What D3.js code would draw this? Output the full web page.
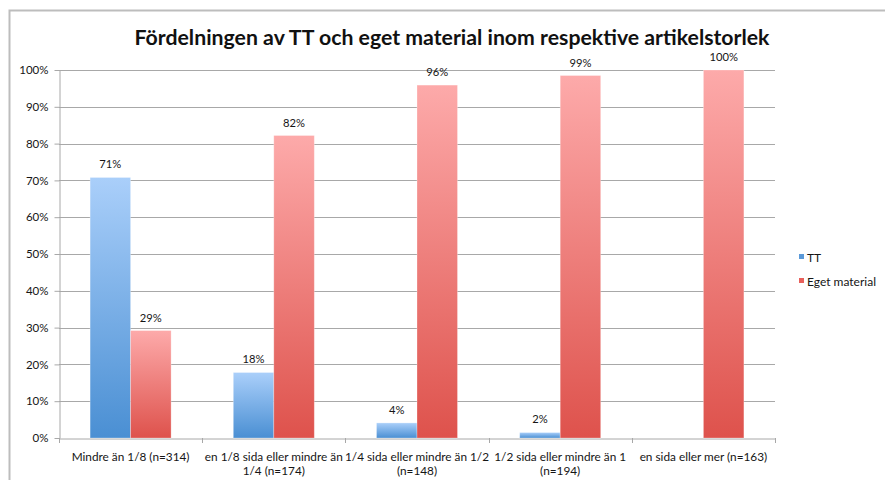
<!DOCTYPE html>
<html>
<head>
<meta charset="utf-8">
<script src="https://cdn.jsdelivr.net/npm/d3@7"></script>
<style>
  html, body { margin: 0; padding: 0; background: #fff; }
  svg { display: block; }
  text { font-family: Lato, "Open Sans", sans-serif; fill: #151515; }
</style>
</head>
<body>
<svg id="chart" width="885" height="480"></svg>
<script>
// ---- data ----
const categories = [
  "Mindre än 1/8 (n=314)",
  "en 1/8 sida eller mindre än 1/4 (n=174)",
  "1/4 sida eller mindre än 1/2 (n=148)",
  "1/2 sida eller mindre än 1 (n=194)",
  "en sida eller mer (n=163)"
];
const categoryLines = [
  ["Mindre än 1/8 (n=314)"],
  ["en 1/8 sida eller mindre än", "1/4 (n=174)"],
  ["1/4 sida eller mindre än 1/2", "(n=148)"],
  ["1/2 sida eller mindre än 1", "(n=194)"],
  ["en sida eller mer (n=163)"]
];
const seriesNames = ["TT", "Eget material"];
const ttValues = [70.8, 17.8, 4.1, 1.5, 0];
const egetValues = [29.2, 82.2, 95.9, 98.5, 100];
const ttLabels = ["71%", "18%", "4%", "2%", null];
const egetLabels = ["29%", "82%", "96%", "99%", "100%"];
const yTicks = [0, 10, 20, 30, 40, 50, 60, 70, 80, 90, 100];
const titleText = "Fördelningen av TT och eget material inom respektive artikelstorlek";

// ---- layout ----
const svg = d3.select("#chart");
const plot = { left: 59, right: 775, top: 70, bottom: 438 };

// gradients
const defs = svg.append("defs");
function grad(id, top, bottom) {
  const g = defs.append("linearGradient").attr("id", id)
    .attr("x1", 0).attr("y1", 0).attr("x2", 0).attr("y2", 1);
  g.append("stop").attr("offset", "0%").attr("stop-color", top);
  g.append("stop").attr("offset", "100%").attr("stop-color", bottom);
}
grad("gTT", "#aacffa", "#4a8fd3");
grad("gEget", "#fdaaaa", "#de524c");

// outer frame
svg.append("path")
  .attr("d", `M9.5,480 L9.5,10.5 L885,10.5`)
  .attr("fill", "none").attr("stroke", "#bdbdbd").attr("stroke-width", 2);

// title
svg.append("text")
  .attr("x", 452).attr("y", 45)
  .attr("text-anchor", "middle")
  .attr("font-size", 20).attr("font-weight", "bold")
  .attr("textLength", 635).attr("lengthAdjust", "spacingAndGlyphs")
  .style("fill", "#111")
  .text(titleText);

const x = d3.scaleBand().domain(categories).range([plot.left, plot.right]);
const y = d3.scaleLinear().domain([0, 100]).range([plot.bottom, plot.top]);
const barW = 40.5;

// gridlines
svg.append("g").selectAll("line").data(yTicks.filter(d => d > 0)).join("line")
  .attr("x1", plot.left).attr("x2", plot.right)
  .attr("y1", d => Math.round(y(d)) + 0.5).attr("y2", d => Math.round(y(d)) + 0.5)
  .attr("stroke", "#a8a8a8").attr("stroke-width", 1);

// y axis
const yAxis = svg.append("g").attr("transform", `translate(${plot.left + 0.5},0)`)
  .call(d3.axisLeft(y).tickValues(yTicks).tickFormat(d => d + "%").tickSize(5).tickSizeOuter(0));
yAxis.select(".domain").attr("stroke", "#a8a8a8");
yAxis.selectAll(".tick line").attr("stroke", "#a8a8a8");
yAxis.selectAll(".tick text").attr("font-size", 11.5).attr("x", -11)
  .style("font-family", "Lato, sans-serif").style("fill", "#151515");

// x axis
const xAxis = svg.append("g").attr("transform", `translate(0,${plot.bottom + 0.5})`)
  .call(d3.axisBottom(x).tickSize(0).tickFormat(""));
xAxis.select(".domain").attr("stroke", "#a8a8a8");
// category boundary ticks
svg.append("g").selectAll("line").data(d3.range(categories.length + 1)).join("line")
  .attr("x1", i => Math.round(plot.left + i * x.step()) + 0.5)
  .attr("x2", i => Math.round(plot.left + i * x.step()) + 0.5)
  .attr("y1", plot.bottom).attr("y2", plot.bottom + 5)
  .attr("stroke", "#a8a8a8");

// x labels
const xl = svg.append("g").selectAll("text").data(categories).join("text")
  .attr("text-anchor", "middle").attr("font-size", 11.8)
  .attr("x", d => x(d) + x.bandwidth() / 2);
xl.each(function(d, i) {
  const t = d3.select(this);
  categoryLines[i].forEach((line, k) => {
    t.append("tspan").attr("x", x(d) + x.bandwidth() / 2)
      .attr("y", 461 + k * 14).text(line);
  });
});

// bars
const series = [
  { name: seriesNames[0], values: ttValues, labels: ttLabels, fill: "url(#gTT)", off: -barW },
  { name: seriesNames[1], values: egetValues, labels: egetLabels, fill: "url(#gEget)", off: 0 }
];
series.forEach(s => {
  const g = svg.append("g");
  g.selectAll("rect").data(categories.map((c, i) => ({ c, v: s.values[i] })).filter(d => d.v > 0)).join("rect")
    .attr("x", d => x(d.c) + x.bandwidth() / 2 + s.off)
    .attr("y", d => y(d.v))
    .attr("width", barW)
    .attr("height", d => y(0) - y(d.v))
    .attr("fill", s.fill)
    .attr("stroke", "rgba(255,255,255,0.35)").attr("stroke-width", 0.8);
  g.selectAll("text").data(categories.map((c, i) => ({ c, v: s.values[i], l: s.labels[i] })).filter(d => d.l)).join("text")
    .attr("x", d => x(d.c) + x.bandwidth() / 2 + s.off + barW / 2)
    .attr("y", d => y(d.v) - 9)
    .attr("text-anchor", "middle").attr("font-size", 11.2)
    .text(d => d.l);
});

// legend
const legend = svg.append("g");
const legendColors = ["#5b9ad9", "#e8605b"];
const legendY = [254, 278];
seriesNames.forEach((n, i) => {
  legend.append("rect").attr("x", 799).attr("y", legendY[i]).attr("width", 5).attr("height", 5)
    .attr("fill", legendColors[i]);
  legend.append("text").attr("x", 807).attr("y", legendY[i] + 8)
    .attr("font-size", 12).text(n);
});
</script>
</body>
</html>
